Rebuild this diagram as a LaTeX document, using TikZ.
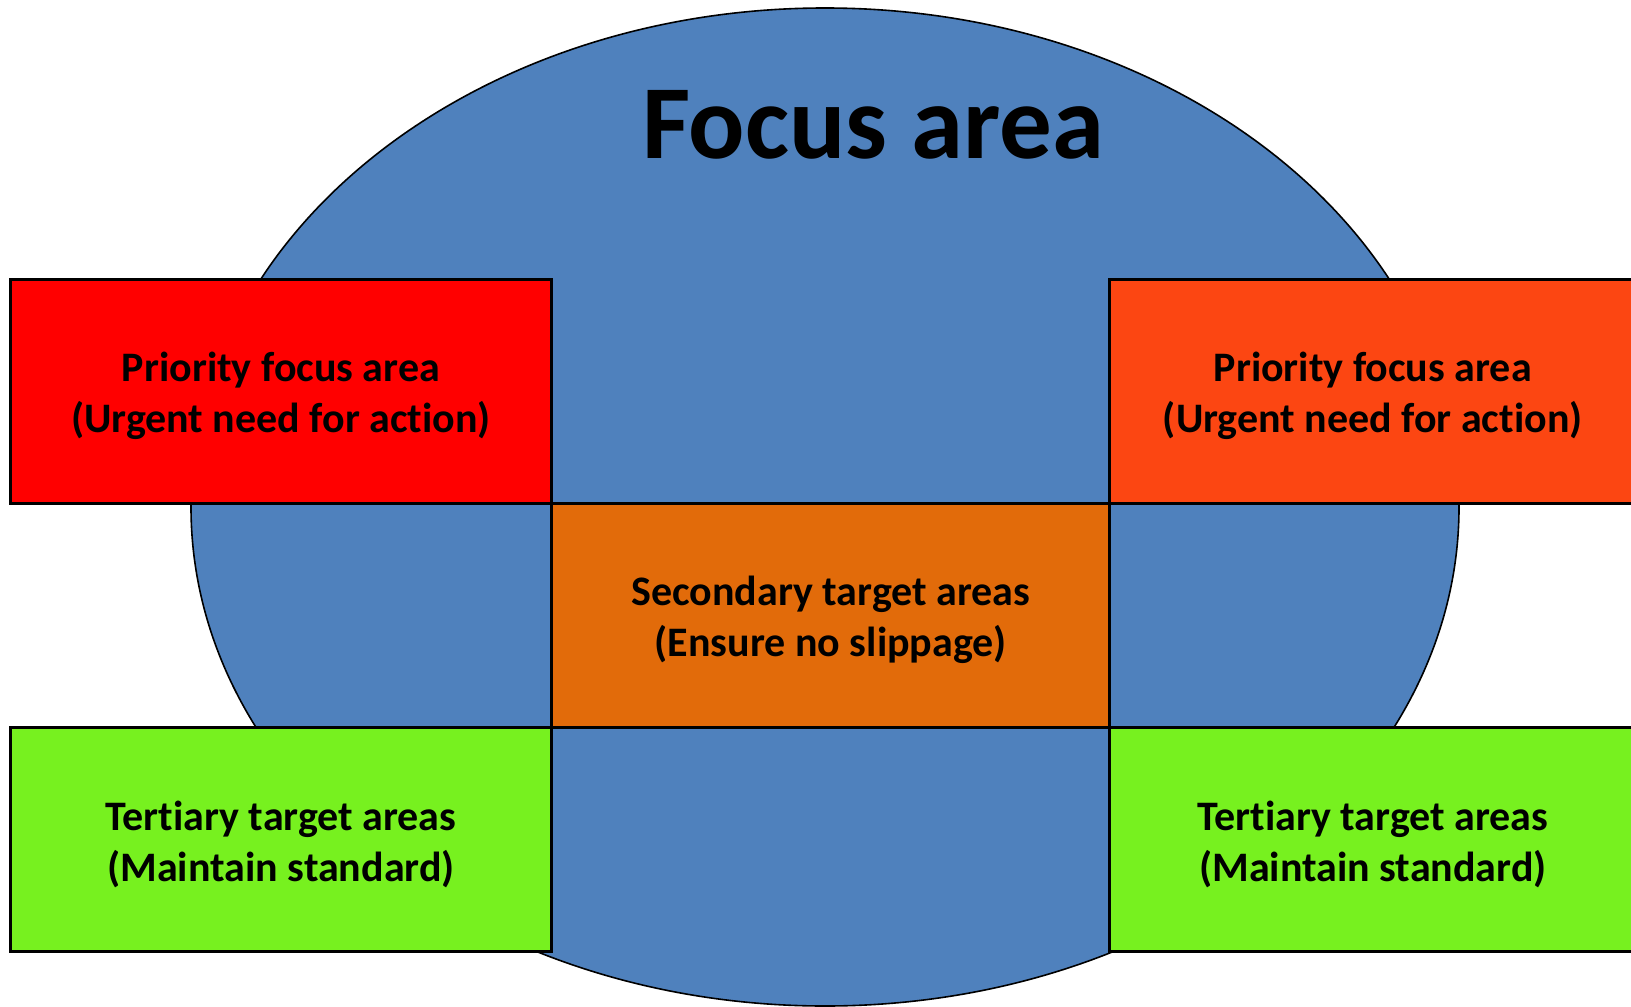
\documentclass[tikz,border=0pt]{standalone}
\usepackage{fontspec}
\setmainfont[Ligatures={NoCommon}]{Carlito}
\usetikzlibrary{positioning}

\definecolor{focusblue}{HTML}{4F81BD}
\definecolor{urgentred}{HTML}{FF0000}
\definecolor{urgentorange}{HTML}{FC4612}
\definecolor{secorange}{HTML}{E26B0A}
\definecolor{tertgreen}{HTML}{77F11F}

\def\areawidth{270.8pt}
\def\areaheight{112pt}

\begin{document}
\begin{tikzpicture}[x=0.5pt,y=-0.5pt,line width=1.5pt,draw=black]
    \tikzstyle{area}=[rectangle,draw,outer sep=0pt,inner sep=0pt,minimum width=\areawidth,minimum height=\areaheight,text height=45.5pt,align=center,font=\bfseries\fontsize{21}{25.5}\selectfont]
    \tikzstyle{priority area}=[area, fill=urgentred];
    \tikzstyle{secondary area}=[area, fill=secorange, minimum width=279pt];
    \tikzstyle{tertiary area}=[area, fill=tertgreen];
    \tikzstyle{right area}=[minimum width=263pt];
    \tikzstyle{title}=[font=\bfseries\fontsize{52.5}{60}\selectfont, anchor=base]

    \useasboundingbox (0,0) rectangle (1631,1006);

    % Draw the focus ellipse
    \draw[fill=focusblue, line width=0.8pt] (825,507) ellipse [x radius=317pt, y radius=249.5pt];

    % Draw the priority areas and the secondary area between them
    \node[priority area] (P-1) at (281,391) {Priority focus area\\(Urgent need for action)};
    \node[secondary area, anchor=north west] (S-1) at (P-1.south east) {Secondary target areas\\(Ensure no slippage)};
    \node[priority area, right area, fill=urgentorange, anchor=south west] (P-2) at (S-1.north east) {Priority focus area\\(Urgent need for action)};

    % Draw the tertiary areas
    \node[tertiary area, anchor=north east] (T-1) at (S-1.south west) {Tertiary target areas\\(Maintain standard)};
    \node[tertiary area, right area, anchor=north west] (T-2) at (S-1.south east) {Tertiary target areas\\(Maintain standard)};

    % Title
    \node[title] (F) at (873,158) {Focus area};
\end{tikzpicture}
\end{document}
